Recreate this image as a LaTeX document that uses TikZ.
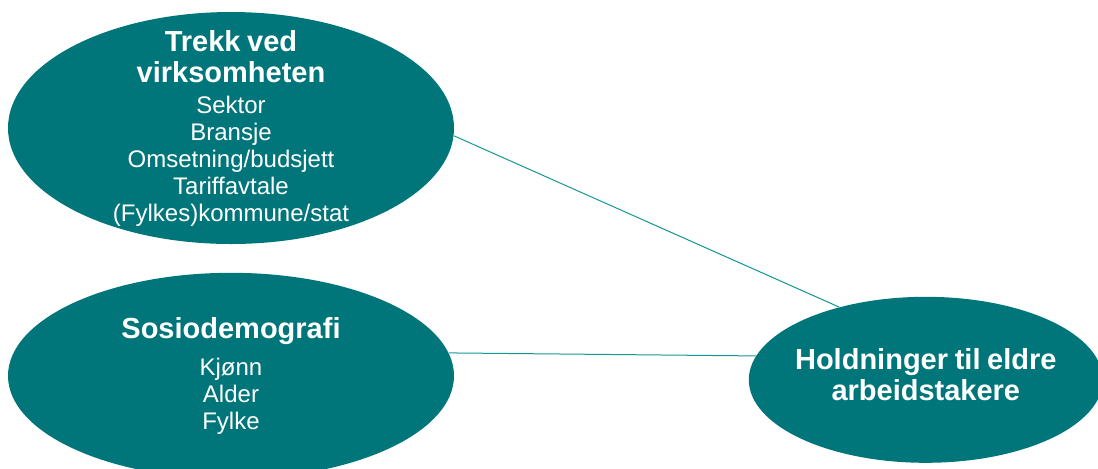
\documentclass[tikz,border=0pt]{standalone}
\usepackage{fontspec}
\setmainfont{Liberation Sans}
\usetikzlibrary{positioning,shapes.geometric}
\definecolor{petrol}{RGB}{0,118,122}
\definecolor{linkteal}{RGB}{20,150,150}
\newcommand{\headfont}{\fontsize{14.5}{15.5}\selectfont\bfseries}
\newcommand{\itemfont}{\fontsize{12}{13.5}\selectfont}

\begin{document}
\begin{tikzpicture}[x=0.5pt,y=-0.5pt,
    blob/.style={ellipse, fill=petrol, inner sep=0pt},
    blobtext/.style={text=white, text width=150pt, align=center, inner sep=0pt},
    link/.style={draw=linkteal, line width=0.5pt}]
  \useasboundingbox (0,0) rectangle (1098,468);
  \clip (0,0) rectangle (1098,468);

  \node[blob, minimum width=223pt, minimum height=116pt] (trekk) at (231,128) {};
  \node[blob, minimum width=223pt, minimum height=103pt, below=14pt of trekk] (socio) {};
  \node[blob, minimum width=177pt, minimum height=83pt, right=147pt of socio, yshift=-2pt] (holdning) {};

  \node[blobtext] (trekk text) at (trekk)
    {{\headfont Trekk ved\\virksomheten\par}\vspace{2pt}%
     {\itemfont Sektor\\Bransje\\Omsetning/budsjett\\Tariffavtale\\(Fylkes)kommune/stat\par}};
  \node[blobtext] (socio text) at (socio)
    {{\headfont Sosiodemografi\par}\vspace{5pt}%
     {\itemfont Kjønn\\Alder\\Fylke\par}};
  \node[blobtext, yshift=2.5pt] (holdning text) at (holdning)
    {{\headfont Holdninger til eldre\\arbeidstakere\par}};

  \draw[link] (trekk.-2) -- (holdning.140);
  \draw[link] (socio.6) -- (holdning.172);
\end{tikzpicture}
\end{document}
